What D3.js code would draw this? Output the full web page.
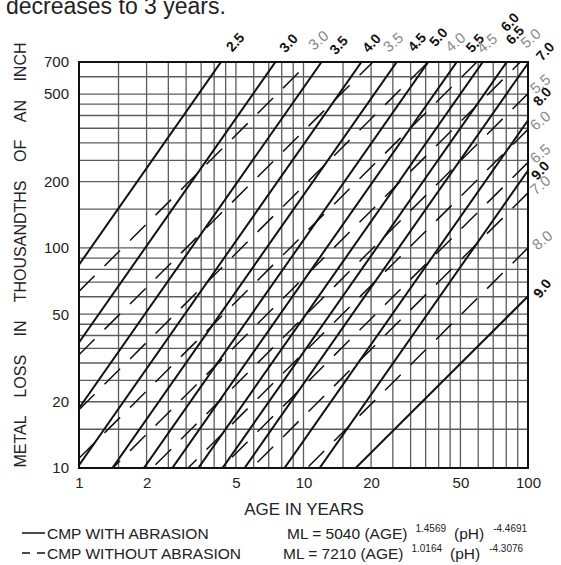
<!DOCTYPE html>
<html><head><meta charset="utf-8">
<script src="https://cdn.jsdelivr.net/npm/d3@7"></script>
<style>body{margin:0;background:#fff}svg{display:block}text{font-family:"Liberation Sans",Arial,sans-serif}</style>
</head><body>
<script>
// ---- DATA ----
// CMP with abrasion (solid): metal loss at age 1 and at age 100, per pH
const phSolid = [2.5, 3.0, 3.5, 4.0, 4.5, 5.0, 5.5, 6.0, 6.5, 7.0, 8.0, 9.0];
const solidAge1 = [83.9, 37.2, 18.7, 10.3, 6.07, 3.79, 2.48, 1.68, 1.17, 0.842, 0.464, 0.274];
const solidAge100 = [68800, 30500, 15300, 8430, 4980, 3110, 2030, 1376, 962, 691, 380, 225];
// CMP without abrasion (dashed)
const phDashed = [3.0, 3.5, 4.0, 4.5, 5.0, 5.5, 6.0, 6.5, 7.0, 8.0, 9.0];
const dashedAge1 = [63.5, 32.7, 18.4, 11.07, 7.03, 4.66, 3.21, 2.27, 1.65, 0.929, 0.559];
const dashedAge100 = [6847, 3524, 1983, 1194, 758, 503, 346, 245, 178, 100.1, 60.3];
// axis ticks
const xTicks = [1, 2, 5, 10, 20, 50, 100];
const yTicks = [10, 20, 50, 100, 200, 500, 700];
const gridSteps = [1, 1.5, 2, 2.5, 3, 3.5, 4, 4.5, 5, 6, 7, 8, 9];

// ---- LAYOUT ----
const W = 561, H = 565;
const x = d3.scaleLog().domain([1, 100]).range([79, 528]);
const y = d3.scaleLog().domain([10, 700]).range([468, 62]);
const font = '"Liberation Sans",Arial,sans-serif';

// label offsets from line exit point (px)
const solidLabelOff = [[14,-20],[13,-19],[17,-17],[10,-19],[20,-20],[10,-25],[18,-19],[27,-40],[8,-27],[17,-12],[14,-24],[12,0]];
const dashedLabelOff = [[9,-22],[20,-20],[27,-20],[10,-19],[10,-24],[12,-10],[12,-9],[12,-9],[12,-8],[14,-8],[14,-8]];

const svg = d3.select("body").append("svg").attr("width", W).attr("height", H);

// title fragment
svg.append("text").attr("x", 6).attr("y", 14).attr("font-size", 23).attr("fill", "#222")
  .text("decreases to 3 years.");

// clip
svg.append("clipPath").attr("id", "plot").append("rect")
  .attr("x", x(1)).attr("y", y(700)).attr("width", x(100) - x(1)).attr("height", y(10) - y(700));

// grid
const xGrid = [1, 10].flatMap(d => gridSteps.map(s => s * d)).concat([100]);
const yGrid = [10, 100].flatMap(d => gridSteps.map(s => s * d)).filter(v => v <= 700);
const g = svg.append("g");
g.selectAll(".vx").data(xGrid).join("line")
  .attr("x1", d => x(d)).attr("x2", d => x(d)).attr("y1", y(10)).attr("y2", y(700))
  .attr("stroke", "#5c5c5c").attr("stroke-width", 1.3);
g.selectAll(".hy").data(yGrid).join("line")
  .attr("y1", d => y(d)).attr("y2", d => y(d)).attr("x1", x(1)).attr("x2", x(100))
  .attr("stroke", "#5c5c5c").attr("stroke-width", 1.3);

// lines
const lineGen = d3.line().x(d => x(d[0])).y(d => y(d[1]));
const lines = svg.append("g").attr("clip-path", "url(#plot)");
const solidData = phSolid.map((p, i) => ({ph: p, v1: solidAge1[i], v100: solidAge100[i]}));
const dashedData = phDashed.map((p, i) => ({ph: p, v1: dashedAge1[i], v100: dashedAge100[i]}));
lines.selectAll(".s").data(solidData).join("path")
  .attr("d", d => lineGen([[1, d.v1], [100, d.v100]]))
  .attr("fill", "none").attr("stroke", "#111").attr("stroke-width", 2);
lines.selectAll(".dsh").data(dashedData).join("path")
  .attr("d", d => lineGen([[1, d.v1], [100, d.v100]]))
  .attr("fill", "none").attr("stroke", "#111").attr("stroke-width", d => d.ph === 9.0 ? 2 : 1.5)
  .attr("stroke-dasharray", d => d.ph === 9.0 ? null : "22,14");

// frame
svg.append("rect").attr("x", x(1)).attr("y", y(700)).attr("width", x(100) - x(1)).attr("height", y(10) - y(700))
  .attr("fill", "none").attr("stroke", "#111").attr("stroke-width", 2);

// exit point for label placement
function exitPoint(d) {
  const l1 = Math.log10(d.v1), l100 = Math.log10(d.v100), lt = Math.log10(700);
  const la = 2 * (lt - l1) / (l100 - l1);
  if (la <= 2) return [x(Math.pow(10, la)), y(700)];
  return [x(100), y(d.v100)];
}
svg.selectAll(".ls").data(solidData).join("text")
  .attr("transform", (d, i) => { const e = exitPoint(d); return `translate(${e[0] + solidLabelOff[i][0]},${e[1] + solidLabelOff[i][1]}) rotate(-48)`; })
  .attr("text-anchor", "middle").attr("dominant-baseline", "central")
  .attr("font-size", 14).attr("font-weight", "bold").attr("fill", "#111")
  .text(d => d.ph.toFixed(1));
svg.selectAll(".ld").data(dashedData).join("text")
  .attr("transform", (d, i) => { const e = exitPoint(d); return `translate(${e[0] + dashedLabelOff[i][0]},${e[1] + dashedLabelOff[i][1]}) rotate(${d.ph === 9.0 ? -52 : -40})`; })
  .attr("text-anchor", "middle").attr("dominant-baseline", "central")
  .attr("font-size", d => d.ph === 9.0 ? 14 : 15)
  .attr("font-weight", d => d.ph === 9.0 ? "bold" : "normal")
  .attr("fill", d => d.ph === 9.0 ? "#111" : "#8a8a8a")
  .text(d => d.ph.toFixed(1));

// axes
const xAxis = svg.append("g").attr("transform", `translate(0,${y(10)})`)
  .call(d3.axisBottom(x).tickValues(xTicks).tickSize(0).tickPadding(9).tickFormat(d3.format("d")));
xAxis.select(".domain").remove();
xAxis.selectAll("text").attr("font-size", 15).attr("fill", "#222").style("font-family", font);
const yAxis = svg.append("g").attr("transform", `translate(${x(1)},0)`)
  .call(d3.axisLeft(y).tickValues(yTicks).tickSize(0).tickPadding(10).tickFormat(d3.format("d")));
yAxis.select(".domain").remove();
yAxis.selectAll("text").attr("font-size", 15).attr("fill", "#222").style("font-family", font);

svg.append("text").attr("x", 304).attr("y", 515).attr("text-anchor", "middle")
  .attr("font-size", 17).attr("fill", "#222").text("AGE IN YEARS");
svg.append("text").attr("transform", "translate(26,255) rotate(-90)").attr("text-anchor", "middle")
  .attr("font-size", 16).attr("fill", "#222").attr("word-spacing", 14)
  .text("METAL LOSS IN THOUSANDTHS OF AN INCH");

// legend
const leg = svg.append("g").attr("fill", "#222");
leg.append("line").attr("x1", 22).attr("x2", 45).attr("y1", 533).attr("y2", 533).attr("stroke", "#111").attr("stroke-width", 1.5);
leg.append("line").attr("x1", 22).attr("x2", 45).attr("y1", 553).attr("y2", 553).attr("stroke", "#111").attr("stroke-width", 1.5).attr("stroke-dasharray", "8,7");
leg.append("text").attr("x", 47).attr("y", 539).attr("font-size", 15.5).text("CMP WITH ABRASION");
leg.append("text").attr("x", 47).attr("y", 559).attr("font-size", 15.5).text("CMP WITHOUT ABRASION");
function eq(yy, xx, a, b, c) {
  const t = leg.append("text").attr("x", xx).attr("y", yy).attr("font-size", 15.5);
  t.append("tspan").text(`ML = ${a} (AGE)`);
  t.append("tspan").attr("font-size", 10).attr("dx", 8).attr("dy", -7).text(b);
  t.append("tspan").attr("dx", 8).attr("dy", 7).text("(pH)");
  t.append("tspan").attr("font-size", 10).attr("dx", 9).attr("dy", -7).text(c);
}
eq(539, 287, "5040", "1.4569", "-4.4691");
eq(559, 283, "7210", "1.0164", "-4.3076");
</script>
</body></html>
